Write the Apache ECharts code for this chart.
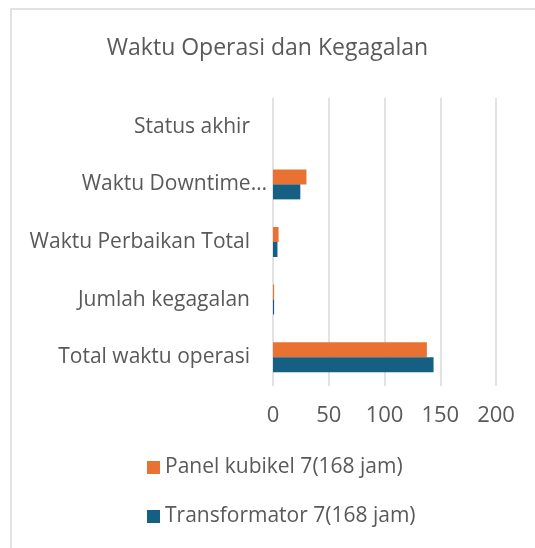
<!DOCTYPE html>
<html>
<head>
<meta charset="utf-8">
<script src="https://cdn.jsdelivr.net/npm/echarts@6/dist/echarts.min.js"></script>
<style>
  html, body { margin: 0; padding: 0; background: #fff; }
  #chart { width: 535px; height: 548px; }
</style>
</head>
<body>
<div id="chart"></div>
<script>
// Waktu Operasi dan Kegagalan
var categories = ['Total waktu operasi', 'Jumlah kegagalan', 'Waktu Perbaikan Total', 'Waktu Downtime…', 'Status akhir'];
var transformator = [144, 1, 4, 24.5, 0];
var panelKubikel = [138, 1, 5, 30, 0];
var xTicks = [0, 50, 100, 150, 200];

var myChart = echarts.init(document.getElementById('chart'));
var option = {
    backgroundColor: '#fff',
    textStyle: { fontFamily: 'Open Sans' },
    graphic: [{
        type: 'rect',
        shape: { x: 11, y: 9, width: 540, height: 560 },
        style: { fill: 'none', stroke: '#d9d9d9', lineWidth: 1.5 },
        silent: true
    }],
    title: {
        text: 'Waktu Operasi dan Kegagalan',
        left: 'center',
        top: 32,
        textStyle: { color: '#595959', fontSize: 23, fontWeight: 'normal', fontFamily: 'Open Sans' }
    },
    legend: {
        orient: 'vertical',
        left: 142,
        top: 452,
        itemWidth: 13,
        itemHeight: 13,
        itemGap: 28,
        icon: 'rect',
        data: ['Panel kubikel 7(168 jam)', 'Transformator 7(168 jam)'],
        textStyle: { color: '#595959', fontSize: 21, fontFamily: 'Open Sans' }
    },
    grid: {
        left: 273,
        right: 39,
        top: 98,
        bottom: 162
    },
    xAxis: {
        type: 'value',
        min: xTicks[0],
        max: xTicks[xTicks.length - 1],
        interval: 50,
        axisLine: { show: false },
        axisTick: { show: false },
        axisLabel: { color: '#595959', fontSize: 22, margin: 19 },
        splitLine: { lineStyle: { color: '#d9d9d9', width: 1.5 } }
    },
    yAxis: {
        type: 'category',
        data: categories.map(function (c) {
            // the truncated label runs past the others, as in Excel
            if (c === 'Waktu Downtime…') {
                return { value: c, textStyle: { padding: [0, -17, 0, 0] } };
            }
            return c;
        }),
        axisLine: { show: false },
        axisTick: { show: false },
        axisLabel: { color: '#595959', fontSize: 21, margin: 23 }
    },
    series: [{
        name: 'Panel kubikel 7(168 jam)',
        type: 'bar',
        data: panelKubikel,
        itemStyle: { color: '#E97132' },
        barGap: '0%',
        barCategoryGap: '48%'
    }, {
        name: 'Transformator 7(168 jam)',
        type: 'bar',
        data: transformator,
        itemStyle: { color: '#156082' },
        barGap: '0%',
        barCategoryGap: '48%'
    }]
};
myChart.setOption(option);
</script>
</body>
</html>
